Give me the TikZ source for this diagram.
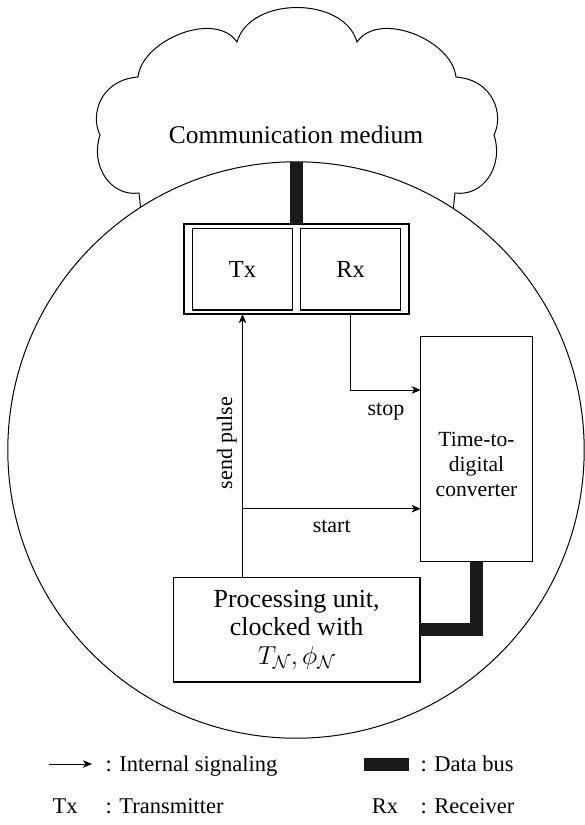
\documentclass[tikz,border=0pt]{standalone}
\usepackage{fix-cm}
\usepackage{fontspec}
\setmainfont{Liberation Serif}
\usetikzlibrary{arrows.meta,calc}
\begin{document}
\begin{tikzpicture}[x=1pt,y=-1pt,
  line width=1.1pt,
  sig/.style={-{Stealth[length=9pt,width=7.5pt,inset=2.5pt]},line width=1pt},
  bus/.style={line width=13pt,color=black!90},
  blk/.style={draw,rectangle,inner sep=0pt,outer sep=0pt},
  lab/.style={font=\fontsize{22}{24}\selectfont},
  leg/.style={font=\fontsize{22.5}{25}\selectfont,inner sep=0pt},
  trx/.style={blk,minimum width=99.6pt,minimum height=81.3pt,font=\fontsize{24.5}{26}\selectfont}]
\fill[white] (0,0) rectangle (584,825);
\useasboundingbox (0,0) rectangle (584,825);
% cloud
\draw[line width=1pt] (143,230) -- (139,193)
  .. controls (110,197) and (90,165) .. (100,135)
  .. controls (90,115) and (100,80) .. (138,77)
  .. controls (142,40) and (215,10) .. (237,42)
  .. controls (250,-4) and (344,-4) .. (357,42)
  .. controls (379,10) and (452,40) .. (456,77)
  .. controls (494,80) and (504,115) .. (494,135)
  .. controls (504,165) and (484,197) .. (455,193)
  -- (451,230) -- cycle;
\node[circle,draw,fill=white,line width=1pt,minimum size=576.4pt,inner sep=0pt,outer sep=0pt] (body) at (296,450) {};
\node[font=\fontsize{25.5}{28}\selectfont,anchor=base] (comm) at (296,143) {Communication medium};
% blocks
\node[blk,minimum width=225pt,minimum height=90pt] (outer) at (296.5,269) {};
\node[trx] (tx) at (242.5,269.35) {Tx};
\node[trx] (rx) at (350.65,269.35) {Rx};
\node[blk,minimum width=111.6pt,minimum height=225pt] (tdc) at (476.5,449.2) {};
\node[align=center,font=\fontsize{21.6}{25}\selectfont,inner sep=0pt] (tdctext) at (476.5,464.3) {Time-to-\\digital\\converter};
\node[blk,minimum width=246.7pt,minimum height=104.7pt,align=center,font=\fontsize{26}{28.5}\selectfont] (proc) at (296.65,629.65) {Processing unit,\\clocked with\\$T_{\mathcal{N}},\phi_{\mathcal{N}}$};
% signals
\draw[sig] (proc.north -| tx) -- (outer.south -| tx);
\coordinate (sj) at (242.5,508.7);
\draw[sig] (sj) -- (sj -| tdc.west);
\coordinate (sy) at (350.65,390);
\draw[sig] (outer.south -| rx) |- (sy -| tdc.west);
\node[lab,anchor=base] (start) at (331.7,532.5) {start};
\node[lab,anchor=base] (stop) at (386,415) {stop};
\node[lab,anchor=base,rotate=90] (send) at (232,443) {send pulse};
% data buses
\draw[bus] (outer.north |- body.north) -- (outer.north);
\draw[bus] (tdc.south) |- (proc.east);
% legend
\coordinate (la) at (49,764);
\coordinate (lb) at (92,764);
\draw[sig] (la) -- (lb);
\node[leg,anchor=base west] (l1) at (105,771) {: Internal signaling};
\node[fill=black!90,minimum width=45pt,minimum height=12.7pt,inner sep=0pt] (lbus) at (386.8,764.6) {};
\node[leg,anchor=base west] (l2) at (420,771) {: Data bus};
\node[leg,anchor=base] (ltx) at (65,813) {Tx};
\node[leg,anchor=base west] (l3) at (105,813) {: Transmitter};
\node[leg,anchor=base] (lrx) at (385,813) {Rx};
\node[leg,anchor=base west] (l4) at (420,813) {: Receiver};
\end{tikzpicture}
\end{document}
